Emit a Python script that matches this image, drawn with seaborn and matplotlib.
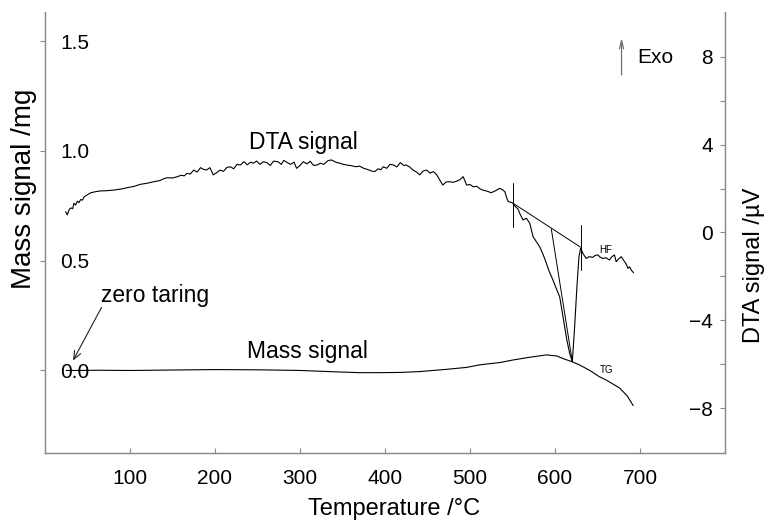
import matplotlib
matplotlib.use("Agg")
import matplotlib.pyplot as plt
from matplotlib.ticker import FixedLocator, FormatStrFormatter
import seaborn as sns
import pandas as pd

# ---------------- data ----------------
dta_T = [24.3, 26.3, 28.5, 30.5, 32.5, 34, 36, 38, 40, 42, 44, 46, 50, 54, 60, 65, 72, 81, 90, 97,
         105, 112, 120, 128, 135, 140, 144, 150, 155, 160, 164, 167, 171, 175, 179, 183, 186, 190,
         194, 198, 202, 206, 210, 214, 218, 222, 226, 230, 234, 238, 242, 245, 249, 253, 257, 261,
         265, 269, 274, 278, 281, 285, 289, 293, 296, 300, 304, 308, 312, 316, 320, 324, 328, 333,
         337, 342, 347, 351, 355, 360, 366, 370, 375, 380, 384, 388, 392, 395, 398, 402, 406, 410,
         414, 418, 422, 425, 429, 433, 437, 441, 445, 449, 453, 457, 461, 465, 468, 472, 476, 480,
         484, 488, 492, 496, 500, 504, 508, 512, 515, 520, 525, 530, 535, 538, 541, 543, 545, 548,
         550.7, 553, 556.6, 558.5, 562.4, 566.4, 570.3, 574.2, 576, 578.1, 582, 586, 589.9, 593,
         597.6, 601, 605.5, 608, 611.4, 614, 617.3, 620.4, 623.1, 625.8, 628.2, 630.2, 632.8,
         636.7, 640, 644.5, 647, 650.4, 653, 656.3, 660, 664, 667, 670, 672, 675, 677.9, 680,
         681.8, 684, 685.7, 687.7, 690, 692.4]
dta_uV = [0.95, 0.80, 1.05, 1.12, 1.08, 1.33, 1.25, 1.42, 1.36, 1.50, 1.47, 1.62, 1.72, 1.81, 1.86,
          1.89, 1.90, 1.93, 1.98, 2.04, 2.10, 2.19, 2.24, 2.31, 2.36, 2.45, 2.49, 2.48, 2.53, 2.60,
          2.58, 2.69, 2.66, 2.84, 2.75, 2.95, 2.88, 2.84, 2.95, 2.62, 2.72, 2.84, 2.78, 2.96, 2.99,
          2.90, 3.10, 3.07, 3.22, 3.08, 3.20, 3.15, 3.25, 3.10, 3.22, 3.18, 3.05, 3.25, 3.22, 3.10,
          3.28, 3.18, 3.10, 3.20, 2.92, 3.05, 3.22, 3.12, 3.24, 3.05, 3.07, 3.15, 3.10, 3.27, 3.30,
          3.20, 3.15, 3.10, 3.07, 3.04, 2.99, 3.02, 2.92, 2.86, 2.80, 2.77, 2.90, 2.85, 2.99, 2.92,
          3.10, 3.07, 2.98, 3.18, 3.05, 3.07, 2.98, 2.84, 2.75, 2.62, 2.80, 2.84, 2.70, 2.77, 2.62,
          2.35, 2.16, 2.30, 2.31, 2.28, 2.33, 2.40, 2.54, 2.16, 2.18, 2.08, 2.10, 1.98, 1.93, 1.88,
          1.81, 1.90, 2.01, 1.95, 1.86, 1.60, 1.40, 1.38, 1.33, 1.20, 1.06, 0.87, 0.57, 0.65, 0.42,
          -0.19, -0.30, -0.42, -0.65, -1.00, -1.40, -1.75, -2.16, -2.50, -2.92, -3.50, -4.29, -4.90,
          -5.50, -5.88, -4.29, -2.47, -1.10, -0.72, -0.95, -1.18, -1.10, -1.13, -1.05, -1.02, -1.12,
          -1.18, -1.15, -1.25, -1.10, -1.02, -1.33, -1.20, -1.10, -1.22, -1.33, -1.45, -1.63, -1.56,
          -1.72, -1.83]

mass_T = [25, 40, 60, 100, 150, 200, 250, 300, 340, 370, 394, 418, 441, 472, 496, 512, 535, 551,
          570, 590, 602, 611, 620, 629, 641, 652, 660, 676, 685, 692]
mass_mg = [0.0, 0.0, 0.001, 0.0, 0.002, 0.004, 0.003, 0.0, -0.006, -0.01, -0.01, -0.009, -0.005,
           0.005, 0.014, 0.026, 0.036, 0.048, 0.06, 0.071, 0.066, 0.052, 0.04, 0.025, 0.0, -0.028,
           -0.043, -0.08, -0.116, -0.16]

# construction lines of the peak evaluation (DTA units)
vline1_T, vline1_v = [551, 551], [2.24, 0.24]
vline2_T, vline2_v = [631, 631], [0.34, -1.70]
base_T, base_v = [550.7, 630.2], [1.33, -0.67]
drop_T, drop_v = [595.7, 620.4], [0.15, -5.88]

x_ticks = [100, 200, 300, 400, 500, 600, 700]
mass_ticks = [0.0, 0.5, 1.0, 1.5]
dta_ticks = [-8, -4, 0, 4, 8]
dta_minor = [-6, -2, 2, 6]

# ---------------- style ----------------
sns.set_style("white")
plt.rcParams['font.family'] = ['Liberation Sans', 'DejaVu Sans']
plt.rcParams['text.color'] = 'black'
plt.rcParams['axes.labelcolor'] = 'black'
plt.rcParams['xtick.color'] = 'black'
plt.rcParams['ytick.color'] = 'black'
plt.rcParams['axes.unicode_minus'] = True
SPINE = '#8a8a8a'

fig = plt.figure(figsize=(7.65, 5.24), dpi=100)
ax = fig.add_axes([0.0588, 0.1355, 0.8889, 0.8416])
ax2 = ax.twinx()

mass_df = pd.DataFrame({"T": mass_T, "m": mass_mg})
dta_df = pd.DataFrame({"T": dta_T, "v": dta_uV})
sns.lineplot(data=mass_df, x="T", y="m", ax=ax, color='black', lw=0.8,
             estimator=None, sort=False)
sns.lineplot(data=dta_df, x="T", y="v", ax=ax2, color='black', lw=0.8,
             estimator=None, sort=False)

for xs, ys in [(vline1_T, vline1_v), (vline2_T, vline2_v), (base_T, base_v), (drop_T, drop_v)]:
    ax2.plot(xs, ys, color='black', lw=0.7)

ax.set_xlim(0, 800)
ax.set_ylim(-0.376, 1.633)
ax2.set_ylim(-10.03, 10.03)

for a in (ax, ax2):
    a.spines['top'].set_visible(False)
    for s in ('left', 'right', 'bottom'):
        a.spines[s].set_color(SPINE)
        a.spines[s].set_linewidth(0.9)
    a.grid(False)

# x axis
ax.set_xticks(x_ticks)
ax.tick_params(axis='x', direction='in', length=3.6, width=0.8, color=SPINE,
               labelcolor='black', labelsize=15, pad=11.5, bottom=True)
ax.set_xlabel("Temperature /°C", fontsize=17, color='black')
ax.xaxis.set_label_coords(0.513, -0.103)

# left axis (mass)
ax.set_yticks(mass_ticks)
ax.yaxis.set_major_formatter(FormatStrFormatter('%.1f'))
ax.tick_params(axis='y', direction='out', length=3.6, width=0.8, color=SPINE,
               labelcolor='black', labelsize=15, pad=-14.4, left=True)
for lab in ax.get_yticklabels():
    lab.set_horizontalalignment('left')
ax.set_ylabel("Mass signal /mg", fontsize=20, color='black')
ax.yaxis.set_label_coords(-0.012, 0.60)

# right axis (DTA)
ax2.yaxis.set_major_locator(FixedLocator(dta_ticks))
ax2.yaxis.set_minor_locator(FixedLocator(dta_minor))
ax2.tick_params(axis='y', which='both', direction='in', length=3.6, width=0.8,
                color=SPINE, labelcolor='black', labelsize=15, pad=-8.6, right=True)
for lab in ax2.get_yticklabels():
    lab.set_horizontalalignment('right')
ax2.set_ylabel("DTA signal /µV", fontsize=17, color='black')
ax2.yaxis.set_label_coords(1.0265, 0.426)
ax2.set_xlabel("")

# texts & arrows
ax2.text(304, 3.78, "DTA signal", fontsize=16.5, ha='center', va='baseline', color='black')
ax.text(237.6, 0.056, "Mass signal", fontsize=16.5, ha='left', va='baseline', color='black')
ax.text(65.4, 0.313, "zero taring", fontsize=16.5, ha='left', va='baseline', color='black')
ax.annotate('', xy=(33, 0.045), xytext=(66.5, 0.287),
            arrowprops=dict(arrowstyle='->,head_length=0.6,head_width=0.25', color='#222222',
                            lw=0.8, shrinkA=0, shrinkB=0))
ax2.text(651.6, -0.92, "HF", fontsize=7, ha='left', va='baseline', color='black')
ax.text(653.3, -0.013, "TG", fontsize=7, ha='left', va='baseline', color='black')
ax2.annotate('', xy=(678.3, 8.85), xytext=(678.3, 7.17),
             arrowprops=dict(arrowstyle='->,head_length=0.6,head_width=0.15', color='#707070',
                             lw=0.9, shrinkA=0, shrinkB=0))
ax2.text(697, 7.94, "Exo", fontsize=15, ha='left', va='center', color='black')

fig.savefig("out.png", dpi=100)
